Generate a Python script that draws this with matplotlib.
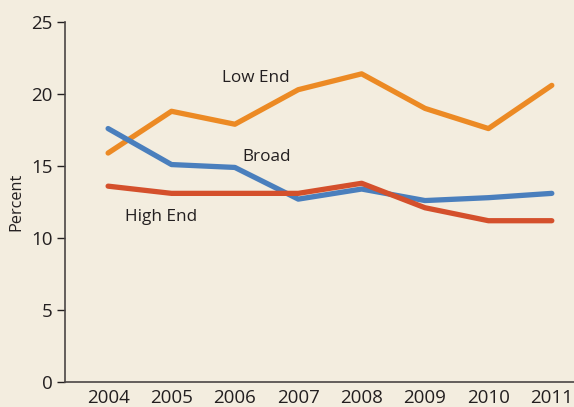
import numpy as np
import matplotlib.pyplot as plt

plt.rcParams['font.family'] = ['Open Sans', 'DejaVu Sans']

years = [2004, 2005, 2006, 2007, 2008, 2009, 2010, 2011]
low_end = [15.9, 18.8, 17.9, 20.3, 21.4, 19.0, 17.6, 20.6]
broad = [17.6, 15.1, 14.9, 12.7, 13.4, 12.6, 12.8, 13.1]
high_end = [13.6, 13.1, 13.1, 13.1, 13.8, 12.1, 11.2, 11.2]

bg = '#f3eddf'
fig = plt.figure(figsize=(5.74, 4.07), dpi=100, facecolor=bg)
ax = fig.add_axes([65/574, 25/407, 509/574, 360/407], facecolor=bg)

ax.plot(years, low_end, color='#ec8a24', lw=3.8, solid_capstyle='round')
ax.plot(years, broad, color='#4a7fbd', lw=3.8, solid_capstyle='round')
ax.plot(years, high_end, color='#d4502c', lw=3.8, solid_capstyle='round')

ax.text(2006.33, 21.1, 'Low End', fontsize=12.3, color='#231f20', ha='center', va='center')
ax.text(2006.5, 15.6, 'Broad', fontsize=12.3, color='#231f20', ha='center', va='center')
ax.text(2004.84, 11.45, 'High End', fontsize=12.3, color='#231f20', ha='center', va='center')

ax.set_xlim(2003.32, 2011.35)
ax.set_ylim(0, 25)
ax.set_yticks(np.arange(0, 26, 5))
ax.set_xticks(years)
ax.tick_params(axis='x', length=0, pad=5, labelsize=13.5, colors='#231f20')
ax.tick_params(axis='y', length=6, width=1, direction='out', labelsize=13.5, colors='#231f20', pad=3)
ax.set_ylabel('Percent', fontsize=11.7, color='#231f20', labelpad=5)

for s in ['top', 'right']:
    ax.spines[s].set_visible(False)
for s in ['left', 'bottom']:
    ax.spines[s].set_color('#4a4545')
    ax.spines[s].set_linewidth(1.2)

fig.savefig('out.png', dpi=100, facecolor=bg)
